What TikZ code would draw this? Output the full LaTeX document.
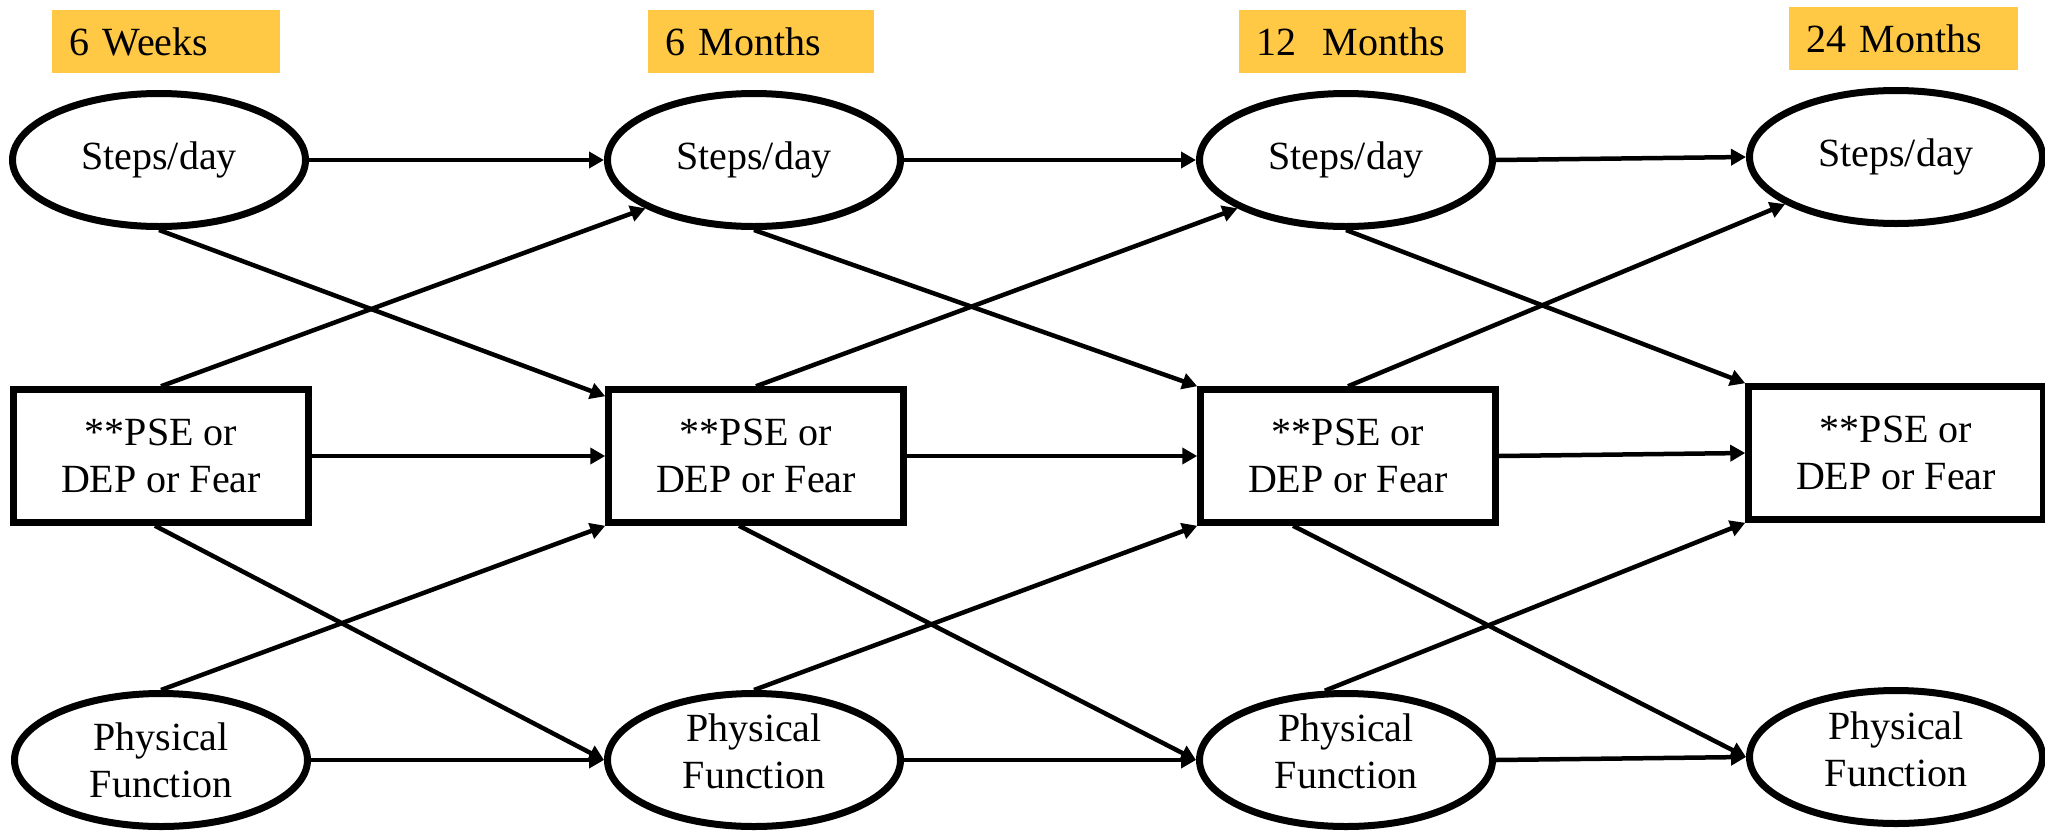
\documentclass[tikz,border=0pt]{standalone}
\usepackage{fontspec}
\setmainfont{Liberation Serif}
\usetikzlibrary{arrows.meta,shapes.geometric,calc}
\definecolor{lblyellow}{HTML}{FFC845}
\newcommand\liftedtext[2]{\raisebox{#1}[\height][\depth]{\begin{tabular}{@{}c@{}}#2\end{tabular}}}
\begin{document}
\begin{tikzpicture}[x=1pt,y=-1pt,
  every node/.style={font=\fontsize{40}{47}\selectfont},
  oval/.style={ellipse,draw,line width=7pt,minimum width=293pt,minimum height=133pt,inner sep=0pt,align=center},
  box/.style={rectangle,draw,line width=6.5pt,minimum width=295pt,minimum height=133pt,inner sep=0pt,align=center},
  lbl/.style={fill=lblyellow,anchor=north west,minimum height=63pt,text width=#1,inner xsep=17pt,inner ysep=0pt,align=left},
  link/.style={line width=4.5pt,-{Triangle[length=15pt,width=16pt]}}
]
\useasboundingbox (0,0) rectangle (2045,833);

% time labels
\node[lbl=194pt] (w6)  at (52,10)   {6 Weeks};
\node[lbl=192pt] (m6)  at (648,10)  {6 Months};
\node[lbl=193pt] (m12) at (1239,10) {12~~Months};
\node[lbl=195pt] (m24) at (1789,7)  {24 Months};

% steps/day row
\node[oval] (S1) at (159,160)  {Steps/day};
\node[oval] (S2) at (754,160)  {Steps/day};
\node[oval] (S3) at (1346,160) {Steps/day};
\node[oval] (S4) at (1896,157) {Steps/day};

% PSE row
\node[box] (P1) at (161,456)  {**PSE or\\DEP or Fear};
\node[box] (P2) at (756,456)  {**PSE or\\DEP or Fear};
\node[box] (P3) at (1348,456) {**PSE or\\DEP or Fear};
\node[box] (P4) at (1896,453) {**PSE or\\DEP or Fear};

% physical function row
\node[oval] (F1) at (161,760)  {Physical\\Function};
\node[oval] (F2) at (754,760)  {\liftedtext{4pt}{Physical\\Function}};
\node[oval] (F3) at (1346,760) {\liftedtext{4pt}{Physical\\Function}};
\node[oval] (F4) at (1896,757) {\liftedtext{3pt}{Physical\\Function}};

% horizontal paths
\draw[link] (S1.east) -- (S2.west);
\draw[link] (S2.east) -- (S3.west);
\draw[link] (S3.east) -- (S4.west);
\draw[link] (P1.east) -- (P2.west);
\draw[link] (P2.east) -- (P3.west);
\draw[link] (P3.east) -- (P4.west);
\draw[link] (F1.east) -- (F2.west);
\draw[link] (F2.east) -- (F3.west);
\draw[link] (F3.east) -- (F4.west);

% cross paths 1 -> 2
\draw[link] (S1.south) -- ($(P2.north west)+(0,10)$);
\draw[link] (P1.north) -- (S2.204);
\draw[link] ($(P1.south)+(-6,0)$) -- (F2.west);
\draw[link] (F1.north) -- (P2.south west);

% cross paths 2 -> 3
\draw[link] (S2.south) -- (P3.north west);
\draw[link] (P2.north) -- (S3.204);
\draw[link] ($(P2.south)+(-17,0)$) -- (F3.west);
\draw[link] (F2.north) -- (P3.south west);

% cross paths 3 -> 4
\draw[link] (S3.south) -- (P4.north west);
\draw[link] (P3.north) -- (S4.203);
\draw[link] ($(P3.south)+(-55,0)$) -- (F4.west);
\draw[link] (F3.107) -- (P4.south west);
\end{tikzpicture}
\end{document}
